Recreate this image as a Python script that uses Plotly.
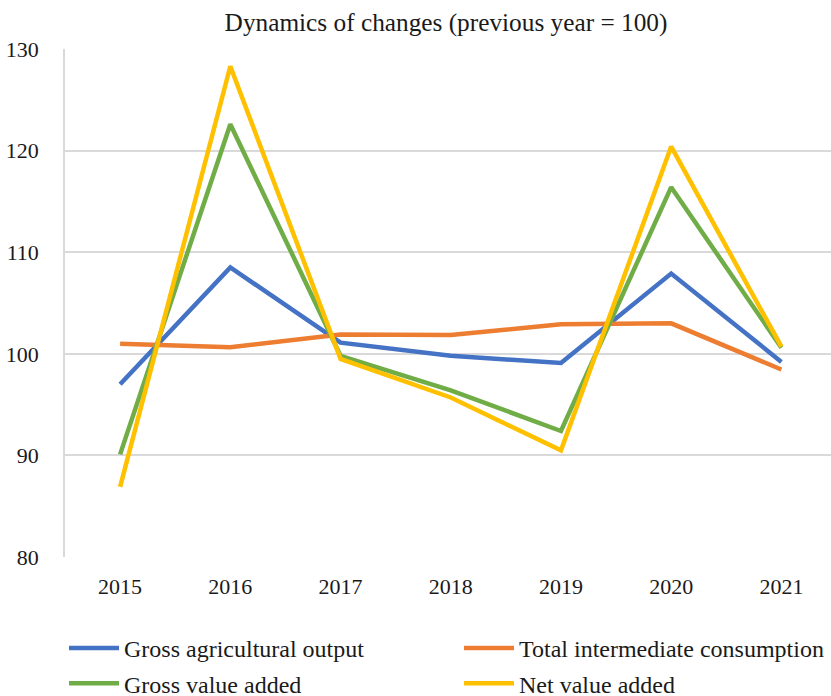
import plotly.graph_objects as go

years = ["2015", "2016", "2017", "2018", "2019", "2020", "2021"]
gross_output = [97.0, 108.5, 101.1, 99.8, 99.1, 107.9, 99.2]
intermediate = [101.0, 100.65, 101.9, 101.85, 102.9, 103.0, 98.45]
gross_va = [90.1, 122.6, 99.8, 96.4, 92.4, 116.4, 100.6]
net_va = [86.9, 128.3, 99.5, 95.7, 90.5, 120.4, 100.7]

names = ["Gross agricultural output", "Total intermediate consumption",
         "Gross value added", "Net value added"]
colors = ["#4472C4", "#ED7D31", "#70AD47", "#FFC000"]
series = [gross_output, intermediate, gross_va, net_va]
legend_ids = ["legend", "legend2", "legend", "legend2"]

FONT = "Liberation Serif"
TXT = "#1a1a1a"

fig = go.Figure()
for i, (n, c, s, lg) in enumerate(zip(names, colors, series, legend_ids)):
    fig.add_trace(go.Scatter(x=years, y=s, mode="lines", name=n,
                             line=dict(color=c, width=4.5, shape="linear"),
                             legend=lg, legendgroup=f"g{i}",
                             hoverinfo="skip"))

leg_common = dict(orientation="v", xref="container", yref="container",
                  xanchor="left", yanchor="top",
                  font=dict(family=FONT, size=24, color=TXT),
                  bgcolor="rgba(0,0,0,0)", itemwidth=50,
                  tracegroupgap=1)

fig.update_layout(
    width=831, height=696,
    margin=dict(l=65, r=0, t=49, b=139, autoexpand=False),
    paper_bgcolor="white", plot_bgcolor="white",
    font=dict(family=FONT, size=22, color=TXT),
    title=dict(text="Dynamics of changes (previous year = 100)",
               x=446 / 831, xanchor="center", xref="container",
               y=1 - 22 / 696, yanchor="middle", yref="container",
               font=dict(family=FONT, size=25.3, color=TXT)),
    xaxis=dict(type="category", range=[-0.5, 6.45], showgrid=False,
               showline=False, zeroline=False, ticks="",
               ticklabelstandoff=14, automargin=False,
               tickfont=dict(family=FONT, size=22, color=TXT)),
    yaxis=dict(range=[80, 130], dtick=10, tick0=80, showgrid=True,
               gridcolor="#d9d9d9", gridwidth=1.5, zeroline=False,
               showline=True, linecolor="#d9d9d9", linewidth=1.5,
               ticks="", ticklabelstandoff=20, automargin=False,
               tickfont=dict(family=FONT, size=22, color=TXT)),
    legend=dict(x=64 / 831, y=1 - 626 / 696, **leg_common),
    legend2=dict(x=459 / 831, y=1 - 626 / 696, **leg_common),
    showlegend=True,
)

fig.write_html("out.html")
